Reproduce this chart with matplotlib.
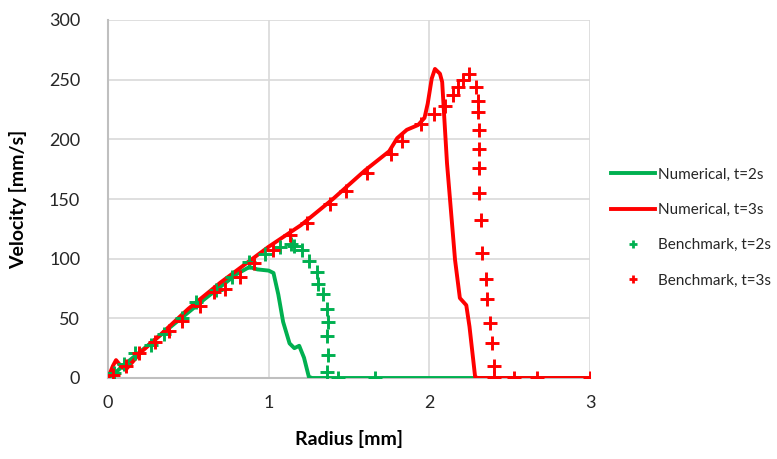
import matplotlib

matplotlib.use("Agg")

import matplotlib.pyplot as plt  # noqa: E402
from matplotlib.lines import Line2D  # noqa: E402

GREEN = "#00b050"
RED = "#ff0000"
GRID = "#d9d9d9"
AXIS = "#bfbfbf"
INK = "#262626"

# ── Data ──────────────────────────────────────────────────────────────────────
num2_r = [0.0, 0.05, 0.10, 0.20, 0.40, 0.60, 0.80, 0.88, 0.93, 1.00, 1.03,
          1.06, 1.09, 1.13, 1.16, 1.19, 1.22, 1.25, 1.27, 3.0]
num2_v = [0.0, 5, 11, 22, 44, 66, 87, 93, 91, 90, 88,
          70, 47, 29, 25, 27, 17, 1, 0, 0]

num3_r = [0.0, 0.03, 0.05, 0.08, 0.11, 0.15, 0.20, 0.30, 0.50, 0.70, 1.00,
          1.20, 1.40, 1.60, 1.75, 1.80, 1.86, 1.93, 1.97, 1.99, 2.015, 2.035,
          2.066, 2.08, 2.09, 2.11, 2.16, 2.19, 2.23, 2.25, 2.285, 2.30, 3.0]
num3_v = [0.0, 10, 15, 10, 7, 13, 21, 33, 58, 80, 110,
          128, 150, 174, 190, 201, 208, 212, 218, 230, 251, 259,
          255, 248, 225, 180, 99, 67, 61, 43, 1, 0, 0]

bench2_r = [0.04, 0.10, 0.17, 0.27, 0.35, 0.46, 0.55, 0.67, 0.77, 0.88, 0.98,
            1.07, 1.14, 1.16, 1.21, 1.25, 1.30, 1.31, 1.34, 1.36, 1.37, 1.365,
            1.37, 1.365, 1.43, 1.66]
bench2_v = [4, 12, 21, 28, 37, 50, 64, 74, 85, 97, 104,
            110, 112, 111, 107, 98, 89, 79, 70, 58, 47, 35,
            19, 5, 0, 0]

bench3_r = [0.03, 0.11, 0.19, 0.29, 0.38, 0.46, 0.57, 0.66, 0.73, 0.82, 0.91,
            1.03, 1.13, 1.24, 1.38, 1.48, 1.61, 1.76, 1.83, 1.95, 2.03, 2.10,
            2.15, 2.18, 2.21, 2.25, 2.29, 2.30, 2.30, 2.31, 2.31, 2.31, 2.31,
            2.32, 2.33, 2.35, 2.36, 2.38, 2.39, 2.40, 2.40, 2.53, 2.67, 3.0]
bench3_v = [2.5, 10, 21, 30, 39, 48, 60, 72, 75, 85, 96,
            107, 120, 130, 146, 157, 172, 188, 199, 213, 221, 228,
            237, 244, 250, 255, 244, 232, 223, 208, 192, 176, 155,
            132, 105, 83, 66, 46, 29, 10, 0, 0, 0, 0]

x_ticks = [0, 1, 2, 3]
y_ticks = [0, 50, 100, 150, 200, 250, 300]

plt.rcParams.update({"font.family": ["Lato", "DejaVu Sans"], "text.color": INK})

fig = plt.figure(figsize=(7.77, 4.59), dpi=100)
ax = fig.add_axes([108 / 777, 81 / 459, 482 / 777, 358 / 459])

ax.plot(num2_r, num2_v, color=GREEN, lw=2.8, zorder=3)
ax.plot(num3_r, num3_v, color=RED, lw=2.8, zorder=3)
ax.plot(bench2_r, bench2_v, ls="none", marker="+", ms=10, mew=2.1,
        color=GREEN, zorder=4)
ax.plot(bench3_r, bench3_v, ls="none", marker="+", ms=10, mew=2.1,
        color=RED, zorder=4)

ax.set_xlim(0, 3)
ax.set_ylim(0, 300)
ax.set_xticks(x_ticks)
ax.set_yticks(y_ticks)
ax.tick_params(length=0, labelsize=13, colors=INK)
ax.tick_params(axis="x", pad=12)
ax.tick_params(axis="y", pad=20)
ax.grid(True, color=GRID, lw=1.2)
ax.set_axisbelow(True)
for sp in ("top", "right"):
    ax.spines[sp].set_visible(False)
for sp in ("left", "bottom"):
    ax.spines[sp].set_color(AXIS)
    ax.spines[sp].set_linewidth(1.5)
    ax.spines[sp].set_zorder(2.5)

ax.set_xlabel("Radius [mm]", fontsize=14, fontweight="bold", labelpad=14)
ax.set_ylabel("Velocity [mm/s]", fontsize=14, fontweight="bold", labelpad=16)

handles = [
    Line2D([], [], color=GREEN, lw=2.8),
    Line2D([], [], color=RED, lw=2.8),
    Line2D([], [], color=GREEN, ls="none", marker="+", ms=6, mew=2.0),
    Line2D([], [], color=RED, ls="none", marker="+", ms=6, mew=2.0),
]
labels = ["Numerical, t=2s", "Numerical, t=3s",
          "Benchmark, t=2s", "Benchmark, t=3s"]
fig.legend(handles, labels, loc="center left", bbox_to_anchor=(600 / 777, 0.504),
           frameon=False, fontsize=11, handlelength=2.9, handletextpad=0.2,
           labelspacing=1.4, borderpad=0.2)

fig.savefig("out.png", dpi=100)
